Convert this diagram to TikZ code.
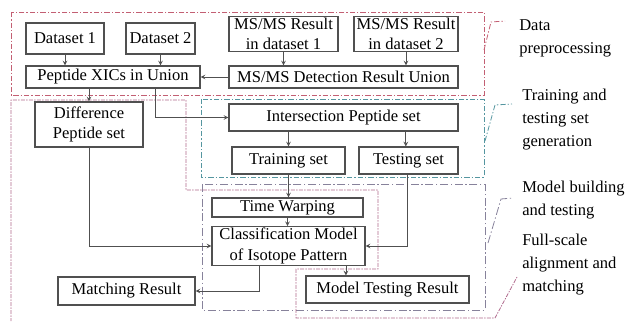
\documentclass[tikz,border=0pt]{standalone}
\usepackage{fontspec}
\setmainfont{Liberation Serif}
\usepackage{tikz}
\usepackage{xcolor}
\definecolor{boxgray}{RGB}{80,80,80}
\definecolor{prepred}{RGB}{195,95,115}
\definecolor{genteal}{RGB}{85,150,160}
\definecolor{modgray}{RGB}{135,130,155}
\definecolor{fullred}{RGB}{175,105,140}
\tikzstyle{boxes} = [rectangle, draw=boxgray, line width=0.8pt, fill=white, text centered, align=center,
inner sep=1pt, font=\fontsize{12.4}{15.5}\selectfont]
\tikzstyle{arrow} = [draw=boxgray, line width=0.6pt, ->, >=stealth]
\tikzstyle{groupline} = [line width=0.6pt, dash pattern=on 4pt off 1.5pt on 1pt off 1.5pt]
\tikzstyle{modline} = [line width=0.6pt, dash pattern=on 6pt off 2pt on 1pt off 2pt]
\tikzstyle{fullline} = [line width=0.6pt, dash pattern=on 1pt off 1pt on 3pt off 1pt]
\tikzstyle{grouplabel} = [align=left, anchor=west, inner sep=0pt, font=\fontsize{12.4}{17.25}\selectfont]

\begin{document}
\begin{tikzpicture}[x=0.75pt, y=-0.75pt]
            \useasboundingbox (0,0) rectangle (627,321);
            % group frames
            \draw[groupline, prepred] (11,12) rectangle (484,95);
            \draw[groupline, prepred] (484,50) -- (491,22) -- (505,21);
            \draw[groupline, genteal] (201,99) rectangle (484,177);
            \draw[groupline, genteal] (485,141) -- (495,105) -- (512,104);
            \draw[modline, modgray] (202,184) rectangle (485,310);
            \draw[modline, modgray] (488,243) -- (501,199) -- (513,198);
            \draw[fullline, fullred] (517,277) -- (495,318) -- (296,318) -- (296,269) -- (378,269)
                -- (378,190) -- (186,190) -- (186,100) -- (11,100) -- (11,321);

            \node(ds1) [boxes, minimum width=58.5pt, minimum height=23.25pt] at (65,38.5) {Dataset 1};
            \node(ds2) [boxes, minimum width=51.75pt, minimum height=23.25pt] at (160.5,38.5) {Dataset 2};
            \node(msA) [boxes, minimum width=81.75pt, minimum height=25.5pt] at (283.5,34) {MS/MS Result\\in dataset 1};
            \node(msB) [boxes, minimum width=78pt, minimum height=25.5pt] at (406,34) {MS/MS Result\\in dataset 2};
            \node(xic) [boxes, minimum width=130.5pt, minimum height=16.5pt] at (113,77) {Peptide XICs in Union};
            \node(detU) [boxes, minimum width=171.75pt, minimum height=16.5pt] at (343.5,77) {MS/MS Detection Result Union};
            \node(diff) [boxes, minimum width=81pt, minimum height=33.75pt] at (89,124.5) {Difference\\Peptide set};
            \node(inter) [boxes, minimum width=171.75pt, minimum height=20.25pt] at (343.5,117.5) {Intersection Peptide set};
            \node(train) [boxes, minimum width=84.75pt, minimum height=20.25pt] at (288.5,160.5) {Training set};
            \node(test) [boxes, minimum width=74.25pt, minimum height=20.25pt] at (408.5,160.5) {Testing set};
            \node(warp) [boxes, minimum width=113.25pt, minimum height=14.25pt] at (287.5,207.5) {Time Warping};
            \node(clf) [boxes, minimum width=114.75pt, minimum height=28.5pt] at (288.5,246) {Classification Model\\of Isotope Pattern};
            \node(match) [boxes, minimum width=102.75pt, minimum height=21pt] at (126.5,291) {Matching Result};
            \node(mtest) [boxes, minimum width=122.25pt, minimum height=20.25pt] at (387.5,289.5) {Model Testing Result};

            \draw[arrow] (ds1.south) -- (ds1.south |- xic.north);
            \draw[arrow] (ds2.south) -- (ds2.south |- xic.north);
            \draw[arrow] (msA.south) -- (msA.south |- detU.north);
            \draw[arrow] (msB.south) -- (msB.south |- detU.north);
            \draw[arrow] (detU.west) -- (xic.east);
            \draw[arrow] (diff.north |- xic.south) -- (diff.north);
            \draw[arrow] ([xshift=31.5pt]xic.south) |- (inter.west);
            \draw[arrow] (train.north |- inter.south) -- (train.north);
            \draw[arrow] ([xshift=-2pt]test.north |- inter.south) -- ([xshift=-2pt]test.north);
            \draw[arrow] (train.south) -- (train.south |- warp.north);
            \draw[arrow] (warp.south) -- (warp.south |- clf.north);
            \draw[arrow] ([xshift=-1pt]test.south) |- (clf.east);
            \draw[arrow] (diff.south) |- (clf.west);
            \draw[arrow] ([xshift=-22.1pt]clf.south) |- (match.east);
            \draw[arrow] ([xshift=43.1pt]clf.south) -- ([xshift=43.1pt]clf.south |- mtest.north);

            \node(lblprep) [grouplabel] at (519,38) {Data\\preprocessing};
            \node(lblgen) [grouplabel] at (522,120) {Training and\\testing set\\generation};
            \node(lblmod) [grouplabel] at (522,200) {Model building\\and testing};
            \node(lblfull) [grouplabel] at (522,265) {Full-scale\\alignment and\\matching};
        \end{tikzpicture}
\end{document}
